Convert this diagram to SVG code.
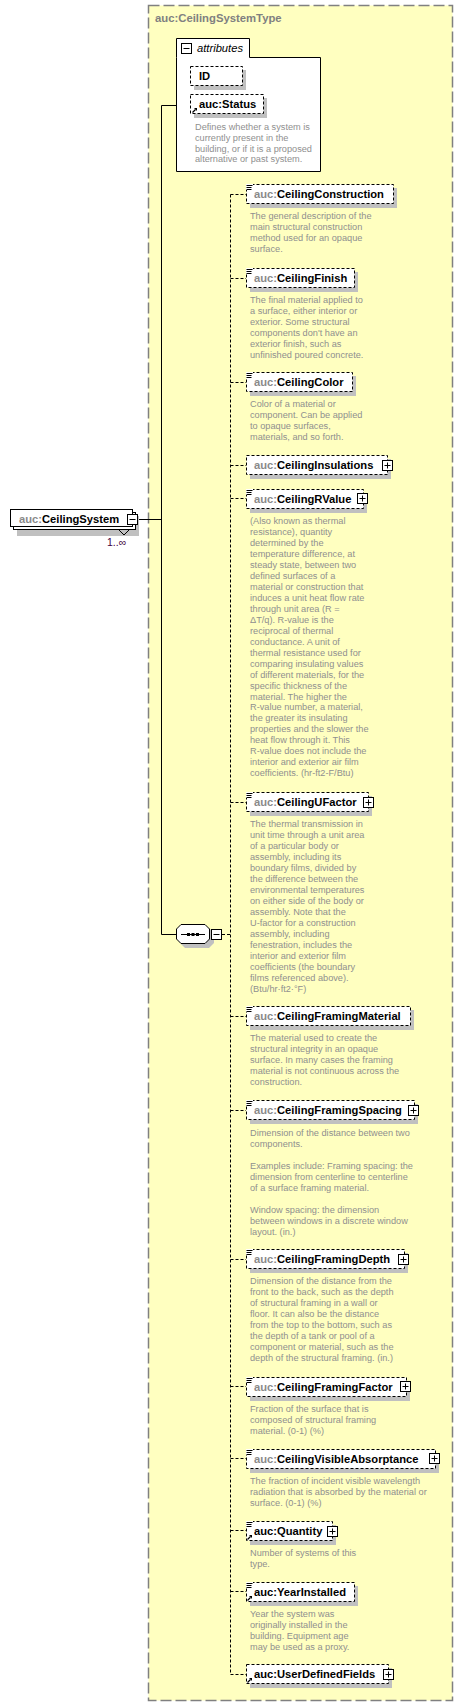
<svg xmlns="http://www.w3.org/2000/svg" width="463" height="1706" viewBox="0 0 463 1706">
<style>
.nm{font-family:"Liberation Sans",Arial,sans-serif;font-weight:bold;font-size:11.2px;fill:#000}
.pf{fill:#8a8a8a}
.ds{font-family:"Liberation Sans",Arial,sans-serif;font-size:9.2px;fill:#8f8f8f}
.bx{fill:#fff;stroke:#000;stroke-width:1;stroke-dasharray:3,2}
.sh{fill:#c0c0c0}
.ic{fill:#fff;stroke:#000;stroke-width:1}
.ln{stroke:#000;stroke-width:1;fill:none}
.dl{stroke:#000;stroke-width:1;fill:none;stroke-dasharray:3,2}
</style>
<defs>
<g id="plus"><rect class="ic" x="-5" y="-5" width="10" height="10"/><path class="ln" d="M-3,0H3M0,-3V3"/></g>
<g id="minus"><rect class="ic" x="-5" y="-5" width="10" height="10"/><path class="ln" d="M-3,0H3"/></g>
<g id="doc"><rect x="0" y="-1" width="7" height="6" fill="#fff"/><path class="ln" d="M0.5,0.5H6.5M0.5,2.5H5.5M0.5,4.5H5.5"/></g>
<g id="ref"><path d="M0.5,-0.5L3.5,-3.5" stroke="#000" stroke-width="1.2"/><path d="M2,-5H5V-2Z" fill="#000"/></g>
</defs>
<g id="type-box">
<rect x="148.5" y="5.5" width="304" height="1695" fill="#ffffc0" stroke="#808080" stroke-width="1.5" stroke-dasharray="11,4"/>
<text x="155" y="22" font-family="Liberation Sans,Arial,sans-serif" font-weight="bold" font-size="11.3" fill="#808080">auc:CeilingSystemType</text>
</g>
<g id="connectors">
<path class="ln" d="M138,519.5H161.5M161.5,105.5V934.5M161.5,105.5H176M161.5,934.5H176"/>
<path class="dl" d="M222,934.5H230.5M230.5,194.5V1674.5"/>
<path class="dl" d="M230.5,194.5H246M230.5,278.5H246M230.5,382.5H246M230.5,465.5H246M230.5,498.5H246M230.5,802.5H246M230.5,1016.5H246M230.5,1110.5H246M230.5,1259.5H246M230.5,1386.5H246M230.5,1458.5H246M230.5,1530.5H246M230.5,1591.5H246M230.5,1674.5H246"/>
</g>
<g id="CeilingSystem">
<rect class="sh" x="17" y="516" width="122" height="20"/>
<rect x="13.5" y="512.5" width="122" height="17" fill="#fff" stroke="#000"/>
<rect x="10.5" y="509.5" width="122" height="17" fill="#fff" stroke="#000"/>
<path class="ln" d="M119,530L124,535L129,530"/>
<use href="#minus" x="132.5" y="519.5"/>
<text class="nm" x="19" y="523"><tspan class="pf">auc:</tspan>CeilingSystem</text>
<text x="107" y="546" font-family="Liberation Sans,Arial,sans-serif" font-size="10.5" fill="#400040">1..∞</text>
</g>
<g id="attributes">
<path d="M176.5,57.5V38.5H249.5V57.5H320.5V171.5H176.5Z" fill="#fff" stroke="#000"/>
<use href="#minus" x="186.5" y="48.5"/>
<text x="197" y="52" font-family="Liberation Sans,Arial,sans-serif" font-style="italic" font-size="11.2">attributes</text>
<g id="ID">
<rect class="sh" x="194" y="70" width="52" height="20"/>
<rect class="bx" x="190.5" y="66.5" width="52" height="19"/>
<text class="nm" x="199" y="80">ID</text>
</g>
<g id="Status">
<rect class="sh" x="194" y="98" width="73" height="20"/>
<rect class="bx" x="190.5" y="94.5" width="73" height="19"/>
<use href="#ref" x="192" y="113"/>
<text class="nm" x="199" y="108">auc:Status</text>
<text class="ds"><tspan x="195" y="130">Defines whether a system is</tspan><tspan x="195" dy="10.8">currently present in the</tspan><tspan x="195" dy="10.8">building, or if it is a proposed</tspan><tspan x="195" dy="10.8">alternative or past system.</tspan></text>
</g>
</g>
<g id="sequence">
<path class="sh" d="M185,928H209L214,933V943L209,948H185L180,943V933Z"/>
<path d="M181,924.5H205L209.5,929V939L205,943.5H181L176.5,939V929Z" fill="#fff" stroke="#000"/>
<path class="ln" d="M181,934.5H205"/>
<rect x="187" y="933" width="3" height="3"/><rect x="191.5" y="933" width="3" height="3"/><rect x="196" y="933" width="3" height="3"/>
<use href="#minus" x="216.5" y="934.5"/>
</g>
<g id="CeilingConstruction">
<rect class="sh" x="250" y="188" width="147" height="20"/>
<rect class="bx" x="246.5" y="184.5" width="147" height="19"/>
<use href="#doc" x="246" y="185"/>
<text class="nm" x="254" y="198"><tspan class="pf">auc:</tspan>CeilingConstruction</text>
<text class="ds"><tspan x="250" y="219">The general description of the</tspan><tspan x="250" dy="11">main structural construction</tspan><tspan x="250" dy="11">method used for an opaque</tspan><tspan x="250" dy="11">surface.</tspan></text>
</g>
<g id="CeilingFinish">
<rect class="sh" x="250" y="272" width="108" height="20"/>
<rect class="bx" x="246.5" y="268.5" width="108" height="19"/>
<use href="#doc" x="246" y="269"/>
<text class="nm" x="254" y="282"><tspan class="pf">auc:</tspan>CeilingFinish</text>
<text class="ds"><tspan x="250" y="303">The final material applied to</tspan><tspan x="250" dy="11">a surface, either interior or</tspan><tspan x="250" dy="11">exterior. Some structural</tspan><tspan x="250" dy="11">components don't have an</tspan><tspan x="250" dy="11">exterior finish, such as</tspan><tspan x="250" dy="11">unfinished poured concrete.</tspan></text>
</g>
<g id="CeilingColor">
<rect class="sh" x="250" y="376" width="106" height="20"/>
<rect class="bx" x="246.5" y="372.5" width="106" height="19"/>
<use href="#doc" x="246" y="373"/>
<text class="nm" x="254" y="386"><tspan class="pf">auc:</tspan>CeilingColor</text>
<text class="ds"><tspan x="250" y="407">Color of a material or</tspan><tspan x="250" dy="11">component. Can be applied</tspan><tspan x="250" dy="11">to opaque surfaces,</tspan><tspan x="250" dy="11">materials, and so forth.</tspan></text>
</g>
<g id="CeilingInsulations">
<rect class="sh" x="250" y="459" width="141" height="20"/>
<rect class="bx" x="246.5" y="455.5" width="141" height="19"/>
<text class="nm" x="254" y="469"><tspan class="pf">auc:</tspan>CeilingInsulations</text>
<use href="#plus" x="387.5" y="465.5"/>
</g>
<g id="CeilingRValue">
<rect class="sh" x="250" y="493" width="117" height="20"/>
<rect class="bx" x="246.5" y="489.5" width="117" height="19"/>
<use href="#doc" x="246" y="490"/>
<text class="nm" x="254" y="503"><tspan class="pf">auc:</tspan>CeilingRValue</text>
<use href="#plus" x="362.5" y="498.5"/>
<text class="ds"><tspan x="250" y="524">(Also known as thermal</tspan><tspan x="250" dy="10.97">resistance), quantity</tspan><tspan x="250" dy="10.97">determined by the</tspan><tspan x="250" dy="10.97">temperature difference, at</tspan><tspan x="250" dy="10.97">steady state, between two</tspan><tspan x="250" dy="10.97">defined surfaces of a</tspan><tspan x="250" dy="10.97">material or construction that</tspan><tspan x="250" dy="10.97">induces a unit heat flow rate</tspan><tspan x="250" dy="10.97">through unit area (R =</tspan><tspan x="250" dy="10.97">ΔT/q). R-value is the</tspan><tspan x="250" dy="10.97">reciprocal of thermal</tspan><tspan x="250" dy="10.97">conductance. A unit of</tspan><tspan x="250" dy="10.97">thermal resistance used for</tspan><tspan x="250" dy="10.97">comparing insulating values</tspan><tspan x="250" dy="10.97">of different materials, for the</tspan><tspan x="250" dy="10.97">specific thickness of the</tspan><tspan x="250" dy="10.97">material. The higher the</tspan><tspan x="250" dy="10.97">R-value number, a material,</tspan><tspan x="250" dy="10.97">the greater its insulating</tspan><tspan x="250" dy="10.97">properties and the slower the</tspan><tspan x="250" dy="10.97">heat flow through it. This</tspan><tspan x="250" dy="10.97">R-value does not include the</tspan><tspan x="250" dy="10.97">interior and exterior air film</tspan><tspan x="250" dy="10.97">coefficients. (hr-ft2-F/Btu)</tspan></text>
</g>
<g id="CeilingUFactor">
<rect class="sh" x="250" y="796" width="122" height="20"/>
<rect class="bx" x="246.5" y="792.5" width="122" height="19"/>
<use href="#doc" x="246" y="793"/>
<text class="nm" x="254" y="806"><tspan class="pf">auc:</tspan>CeilingUFactor</text>
<use href="#plus" x="368.5" y="802.5"/>
<text class="ds"><tspan x="250" y="827">The thermal transmission in</tspan><tspan x="250" dy="11">unit time through a unit area</tspan><tspan x="250" dy="11">of a particular body or</tspan><tspan x="250" dy="11">assembly, including its</tspan><tspan x="250" dy="11">boundary films, divided by</tspan><tspan x="250" dy="11">the difference between the</tspan><tspan x="250" dy="11">environmental temperatures</tspan><tspan x="250" dy="11">on either side of the body or</tspan><tspan x="250" dy="11">assembly. Note that the</tspan><tspan x="250" dy="11">U-factor for a construction</tspan><tspan x="250" dy="11">assembly, including</tspan><tspan x="250" dy="11">fenestration, includes the</tspan><tspan x="250" dy="11">interior and exterior film</tspan><tspan x="250" dy="11">coefficients (the boundary</tspan><tspan x="250" dy="11">films referenced above).</tspan><tspan x="250" dy="11">(Btu/hr·ft2·°F)</tspan></text>
</g>
<g id="CeilingFramingMaterial">
<rect class="sh" x="250" y="1010" width="164" height="20"/>
<rect class="bx" x="246.5" y="1006.5" width="164" height="19"/>
<use href="#doc" x="246" y="1007"/>
<text class="nm" x="254" y="1020"><tspan class="pf">auc:</tspan>CeilingFramingMaterial</text>
<text class="ds"><tspan x="250" y="1041">The material used to create the</tspan><tspan x="250" dy="11">structural integrity in an opaque</tspan><tspan x="250" dy="11">surface. In many cases the framing</tspan><tspan x="250" dy="11">material is not continuous across the</tspan><tspan x="250" dy="11">construction.</tspan></text>
</g>
<g id="CeilingFramingSpacing">
<rect class="sh" x="250" y="1104" width="168" height="20"/>
<rect class="bx" x="246.5" y="1100.5" width="168" height="19"/>
<use href="#doc" x="246" y="1101"/>
<text class="nm" x="254" y="1114"><tspan class="pf">auc:</tspan>CeilingFramingSpacing</text>
<use href="#plus" x="413.5" y="1110.5"/>
<text class="ds"><tspan x="250" y="1136">Dimension of the distance between two</tspan><tspan x="250" dy="11">components.</tspan><tspan x="250" dy="22">Examples include: Framing spacing: the</tspan><tspan x="250" dy="11">dimension from centerline to centerline</tspan><tspan x="250" dy="11">of a surface framing material.</tspan><tspan x="250" dy="22">Window spacing: the dimension</tspan><tspan x="250" dy="11">between windows in a discrete window</tspan><tspan x="250" dy="11">layout. (in.)</tspan></text>
</g>
<g id="CeilingFramingDepth">
<rect class="sh" x="250" y="1253" width="158" height="20"/>
<rect class="bx" x="246.5" y="1249.5" width="158" height="19"/>
<use href="#doc" x="246" y="1250"/>
<text class="nm" x="254" y="1263"><tspan class="pf">auc:</tspan>CeilingFramingDepth</text>
<use href="#plus" x="403.5" y="1259.5"/>
<text class="ds"><tspan x="250" y="1284">Dimension of the distance from the</tspan><tspan x="250" dy="11">front to the back, such as the depth</tspan><tspan x="250" dy="11">of structural framing in a wall or</tspan><tspan x="250" dy="11">floor. It can also be the distance</tspan><tspan x="250" dy="11">from the top to the bottom, such as</tspan><tspan x="250" dy="11">the depth of a tank or pool of a</tspan><tspan x="250" dy="11">component or material, such as the</tspan><tspan x="250" dy="11">depth of the structural framing. (in.)</tspan></text>
</g>
<g id="CeilingFramingFactor">
<rect class="sh" x="250" y="1381" width="160" height="20"/>
<rect class="bx" x="246.5" y="1377.5" width="160" height="19"/>
<use href="#doc" x="246" y="1378"/>
<text class="nm" x="254" y="1391"><tspan class="pf">auc:</tspan>CeilingFramingFactor</text>
<use href="#plus" x="405.5" y="1386.5"/>
<text class="ds"><tspan x="250" y="1412">Fraction of the surface that is</tspan><tspan x="250" dy="11">composed of structural framing</tspan><tspan x="250" dy="11">material. (0-1) (%)</tspan></text>
</g>
<g id="CeilingVisibleAbsorptance">
<rect class="sh" x="250" y="1453" width="189" height="20"/>
<rect class="bx" x="246.5" y="1449.5" width="189" height="19"/>
<use href="#doc" x="246" y="1450"/>
<text class="nm" x="254" y="1463"><tspan class="pf">auc:</tspan>CeilingVisibleAbsorptance</text>
<use href="#plus" x="434.5" y="1458.5"/>
<text class="ds"><tspan x="250" y="1484">The fraction of incident visible wavelength</tspan><tspan x="250" dy="11">radiation that is absorbed by the material or</tspan><tspan x="250" dy="11">surface. (0-1) (%)</tspan></text>
</g>
<g id="Quantity">
<rect class="sh" x="250" y="1525" width="86" height="20"/>
<rect class="bx" x="246.5" y="1521.5" width="86" height="19"/>
<use href="#doc" x="246" y="1522"/>
<use href="#ref" x="247" y="1540"/>
<text class="nm" x="254" y="1535">auc:Quantity</text>
<use href="#plus" x="332.5" y="1531.5"/>
<text class="ds"><tspan x="250" y="1556">Number of systems of this</tspan><tspan x="250" dy="11">type.</tspan></text>
</g>
<g id="YearInstalled">
<rect class="sh" x="250" y="1586" width="108" height="20"/>
<rect class="bx" x="246.5" y="1582.5" width="108" height="19"/>
<use href="#doc" x="246" y="1583"/>
<use href="#ref" x="247" y="1601"/>
<text class="nm" x="254" y="1596">auc:YearInstalled</text>
<text class="ds"><tspan x="250" y="1617">Year the system was</tspan><tspan x="250" dy="11">originally installed in the</tspan><tspan x="250" dy="11">building. Equipment age</tspan><tspan x="250" dy="11">may be used as a proxy.</tspan></text>
</g>
<g id="UserDefinedFields">
<rect class="sh" x="250" y="1668" width="142" height="20"/>
<rect class="bx" x="246.5" y="1664.5" width="142" height="19"/>
<use href="#ref" x="247" y="1683"/>
<text class="nm" x="254" y="1678">auc:UserDefinedFields</text>
<use href="#plus" x="388.5" y="1674.5"/>
</g>
</svg>
